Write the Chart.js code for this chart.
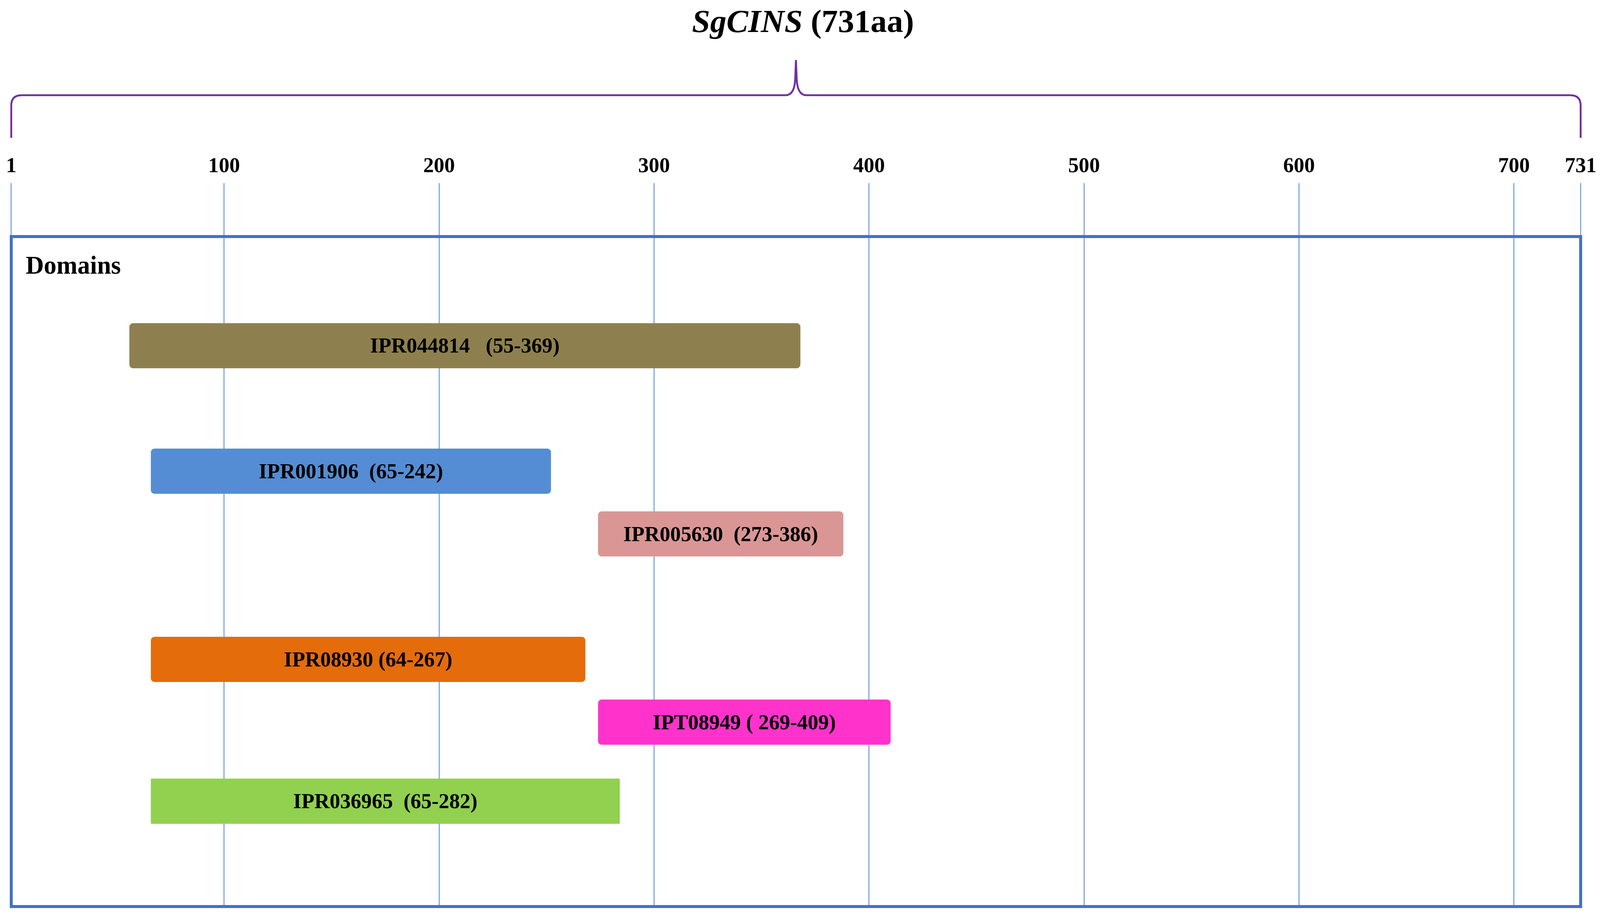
<!DOCTYPE html>
<html>
<head>
<meta charset="utf-8">
<script src="https://cdn.jsdelivr.net/npm/chart.js@4.4.1/dist/chart.umd.min.js"></script>
<style>
  html, body { margin: 0; padding: 0; background: #ffffff; overflow: hidden; }
  #wrap { width: 100vw; height: 100vh; position: relative; }
</style>
</head>
<body>
<div id="wrap"><canvas id="domainChart"></canvas></div>
<script>
// protein length and ruler ticks
const proteinName = 'SgCINS';
const proteinLength = '(731aa)';
const tickValues = [1, 100, 200, 300, 400, 500, 600, 700, 731];

// domains (start / end, text as printed in the figure)
const domainLabels = [
    'IPR044814   (55-369)',
    'IPR001906  (65-242)',
    'IPR005630  (273-386)',
    'IPR08930 (64-267)',
    'IPT08949 ( 269-409)',
    'IPR036965  (65-282)'
];
const domainStart = [56, 66, 274, 66, 274, 66];
const domainEnd = [368, 252, 388, 268, 410, 284];
const domainTrack = [1, 2, 2.5, 3.5, 4, 4.63];
const domainColors = ['#8E804E', '#548DD4', '#D99694', '#E46C0A', '#FF33CC', '#92D050'];

const serif = '"Liberation Serif", "Times New Roman", serif';

// the figure was laid out on a 4550 x 2359 page; scale to the real viewport
const SX = window.innerWidth / 4550;
const SY = window.innerHeight / 2359;
const SF = Math.sqrt(SX * SY);
const px = (n) => n * SX;
const py = (n) => n * SY;
const pf = (n) => n * SF;

const domainData = domainLabels.map((name, i) => ({
    x: [domainStart[i], domainEnd[i]],
    y: domainTrack[i]
}));

const decorPlugin = {
    id: 'decor',
    afterDatasetsDraw(chart) {
        const { ctx, chartArea } = chart;
        const meta = chart.getDatasetMeta(0);

        // names inside the bars
        ctx.save();
        ctx.fillStyle = '#000000';
        ctx.font = 'bold ' + pf(57) + 'px ' + serif;
        ctx.textAlign = 'center';
        ctx.textBaseline = 'middle';
        meta.data.forEach((bar, i) => {
            ctx.fillText(domainLabels[i], (bar.x + bar.base) / 2, bar.y + py(4));
        });
        ctx.restore();

        // blue frame
        ctx.save();
        ctx.strokeStyle = '#3F71C6';
        ctx.lineWidth = pf(8);
        ctx.strokeRect(chartArea.left, chartArea.top, chartArea.right - chartArea.left, chartArea.bottom - chartArea.top);
        ctx.restore();

        // panel label
        ctx.save();
        ctx.fillStyle = '#000000';
        ctx.font = 'bold ' + pf(68) + 'px ' + serif;
        ctx.textBaseline = 'middle';
        ctx.fillText('Domains', chartArea.left + px(41), chartArea.top + py(78));
        ctx.restore();
    },
    afterDraw(chart) {
        const { ctx, chartArea } = chart;
        const xs = chart.scales.x;
        const xL = xs.getPixelForValue(tickValues[0]);
        const xR = xs.getPixelForValue(tickValues[tickValues.length - 1]);
        const xM = (xL + xR) / 2;
        const yLine = chartArea.top - py(362);
        const yTip = chartArea.top - py(452);
        const yEnd = chartArea.top - py(253);
        const r = pf(28);

        // curly brace spanning the whole protein
        ctx.save();
        ctx.strokeStyle = '#7030A0';
        ctx.lineWidth = pf(5);
        ctx.beginPath();
        ctx.moveTo(xL, yEnd);
        ctx.lineTo(xL, yLine + r);
        ctx.quadraticCurveTo(xL, yLine, xL + r, yLine);
        ctx.lineTo(xM - r, yLine);
        ctx.quadraticCurveTo(xM - px(3), yLine, xM - px(2), yLine - py(45));
        ctx.lineTo(xM, yTip);
        ctx.lineTo(xM + px(2), yLine - py(45));
        ctx.quadraticCurveTo(xM + px(3), yLine, xM + r, yLine);
        ctx.lineTo(xR - r, yLine);
        ctx.quadraticCurveTo(xR, yLine, xR, yLine + r);
        ctx.lineTo(xR, yEnd);
        ctx.stroke();
        ctx.restore();

        // title: italic gene name + plain length
        ctx.save();
        ctx.fillStyle = '#000000';
        ctx.textBaseline = 'alphabetic';
        const italicFont = 'italic bold ' + pf(88) + 'px ' + serif;
        const plainFont = 'bold ' + pf(88) + 'px ' + serif;
        ctx.font = italicFont;
        const w1 = ctx.measureText(proteinName).width;
        ctx.font = plainFont;
        const w2 = ctx.measureText(' ' + proteinLength).width;
        const startX = xM + px(20) - (w1 + w2) / 2;
        const baseY = py(82);
        ctx.font = italicFont;
        ctx.fillText(proteinName, startX, baseY);
        ctx.font = plainFont;
        ctx.fillText(' ' + proteinLength, startX + w1, baseY);
        ctx.restore();
    }
};

const ctx = document.getElementById('domainChart').getContext('2d');
new Chart(ctx, {
    type: 'bar',
    data: {
        datasets: [
            {
                label: 'Domains',
                data: domainData,
                backgroundColor: domainColors,
                borderColor: domainColors,
                borderWidth: 0,
                borderRadius: [10, 10, 10, 10, 10, 0].map(pf),
                borderSkipped: false,
                barThickness: py(115)
            }
        ]
    },
    options: {
        indexAxis: 'y',
        responsive: true,
        maintainAspectRatio: false,
        animation: false,
        events: [],
        layout: {
            padding: { top: py(386), left: px(32), right: px(49), bottom: py(37) }
        },
        plugins: {
            legend: { display: false },
            tooltip: { enabled: false },
            title: { display: false }
        },
        scales: {
            x: {
                type: 'linear',
                position: 'top',
                min: 1,
                max: 731,
                afterBuildTicks: (scale) => {
                    scale.ticks = tickValues.map(v => ({ value: v }));
                },
                ticks: {
                    autoSkip: false,
                    maxRotation: 0,
                    padding: py(9),
                    color: '#000000',
                    font: { family: serif, size: pf(57), weight: 'bold' }
                },
                grid: {
                    color: '#7FA3E0',
                    lineWidth: pf(3),
                    tickLength: py(137),
                    drawOnChartArea: true
                },
                border: { display: false }
            },
            y: {
                type: 'linear',
                display: false,
                reverse: true,
                offset: false,
                min: 0.13,
                max: 5.47
            }
        }
    },
    plugins: [decorPlugin]
});
</script>
</body>
</html>
